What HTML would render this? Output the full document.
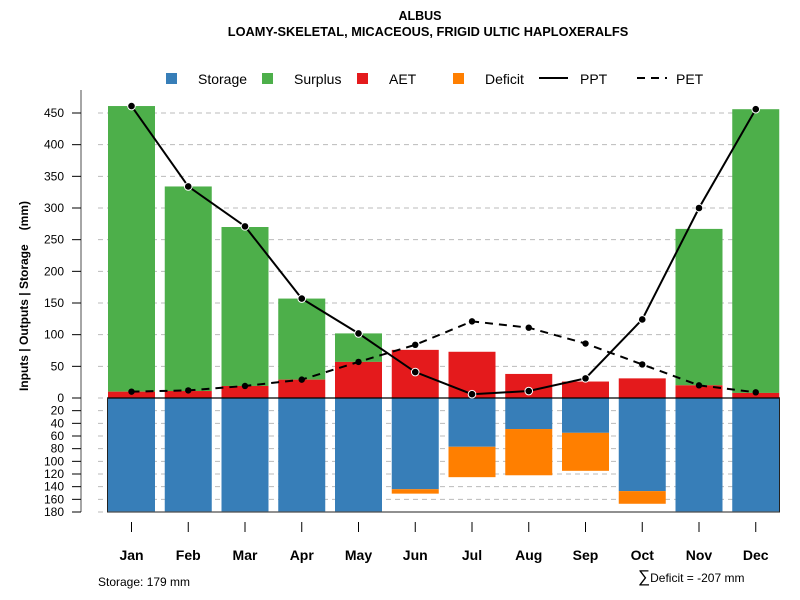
<!DOCTYPE html>
<html><head><meta charset="utf-8"><style>
body{margin:0;background:#fff}
svg{display:block;font-family:"Liberation Sans",sans-serif}
</style></head><body>
<svg id="c" width="800" height="600">
<text x="420" y="20" text-anchor="middle" font-size="12.5" font-weight="bold">ALBUS</text>
<text x="428" y="36" text-anchor="middle" font-size="12.8" font-weight="bold">LOAMY-SKELETAL, MICACEOUS, FRIGID ULTIC HAPLOXERALFS</text>
<text transform="translate(28,296) rotate(-90)" text-anchor="middle" font-size="12" font-weight="bold">Inputs | Outputs | Storage<tspan dx="14">(mm)</tspan></text>
<g id="grid"></g><g id="bars"></g><g id="lines"></g><g id="axes"></g>
<g font-size="14">
<rect x="166" y="73" width="11" height="11" fill="#377eb8"/><text x="198" y="84">Storage</text>
<rect x="262" y="73" width="11" height="11" fill="#4daf4a"/><text x="294" y="84">Surplus</text>
<rect x="357" y="73" width="11" height="11" fill="#e41a1c"/><text x="389" y="84">AET</text>
<rect x="453" y="73" width="11" height="11" fill="#ff7f00"/><text x="485" y="84">Deficit</text>
<line x1="539" y1="78" x2="568" y2="78" stroke="#000" stroke-width="2"/><text x="580" y="84">PPT</text>
<line x1="637" y1="78" x2="667" y2="78" stroke="#000" stroke-width="2" stroke-dasharray="8,6"/><text x="676" y="84">PET</text>
</g>
<text x="98" y="586" font-size="12">Storage: 179 mm</text>
<text x="638" y="582" font-size="12"><tspan font-size="17">∑</tspan>Deficit = -207 mm</text>
</svg>
<script>
const months=["Jan","Feb","Mar","Apr","May","Jun","Jul","Aug","Sep","Oct","Nov","Dec"];
const ppt=[461,334,271,157,102,41,6,11,31,124,300,456];
const pet=[10,12,19,29,57,84,121,111,86,53,20,9];
const aet=[10,11,19,29,57,76,73,38,26,31,20,8];
const surplus=[451,323,251,128,45,0,0,0,0,0,247,448];
const storage=[179,179,179,179,179,144,77,49,55,147,179,179];
const deficit=[0,0,0,0,0,7,48,73,60,20,0,0];
const upTicks=[0,50,100,150,200,250,300,350,400,450];
const lowTicks=[20,40,60,80,100,120,140,160,180];
const NS="http://www.w3.org/2000/svg";
const y0=398;
const yUp=v=>y0-v*(285/450);
const yLow=v=>y0+v*(114/180);
const xC=i=>131.5+i*56.75;
const bw=47;
function mk(t,a,p){const e=document.createElementNS(NS,t);for(const k in a)e.setAttribute(k,a[k]);(p||document.getElementById('c')).appendChild(e);return e;}
const G=document.getElementById('grid'),B=document.getElementById('bars'),L=document.getElementById('lines'),A=document.getElementById('axes');
upTicks.forEach(v=>{const e=mk('line',{x1:98,x2:780,y1:yUp(v),y2:yUp(v),stroke:'#bbb','stroke-dasharray':'5,4'},G);

});
lowTicks.forEach(v=>{const e=mk('line',{x1:98,x2:780,y1:yLow(v),y2:yLow(v),stroke:'#bbb','stroke-dasharray':'5,4'},G);

});
months.forEach((m,i)=>{const x=xC(i)-bw/2;
if(surplus[i]>0){const top=aet[i]+surplus[i];const e=mk('rect',{x:x,width:bw,y:yUp(top),height:yUp(aet[i])-yUp(top),fill:'#4daf4a'},B);

}
let e=mk('rect',{x:x,width:bw,y:yUp(aet[i]),height:y0-yUp(aet[i]),fill:'#e41a1c'},B);


e=mk('rect',{x:x,width:bw,y:y0,height:yLow(storage[i])-y0,fill:'#377eb8'},B);


if(deficit[i]>0){e=mk('rect',{x:x,width:bw,y:yLow(storage[i]),height:yLow(storage[i]+deficit[i])-yLow(storage[i]),fill:'#ff7f00'},B);

}
});
let ln=mk('line',{x1:107,x2:780,y1:y0,y2:y0,stroke:'#000','stroke-width':1.3},B);


ln=mk('polyline',{points:'107.5,398 107.5,512 779.5,512 779.5,398',fill:'none',stroke:'#222','stroke-width':1},B);


let p=mk('polyline',{points:pet.map((v,i)=>xC(i)+','+yUp(v)).join(' '),fill:'none',stroke:'#000','stroke-width':2,'stroke-dasharray':'8,6'},L);


pet.forEach((v,i)=>{const c=mk('circle',{cx:xC(i),cy:yUp(v),r:3.2,fill:'#000'},L);

});
p=mk('polyline',{points:ppt.map((v,i)=>xC(i)+','+yUp(v)).join(' '),fill:'none',stroke:'#000','stroke-width':2},L);


ppt.forEach((v,i)=>{const c=mk('circle',{cx:xC(i),cy:yUp(v),r:3.8,fill:'#000',stroke:'#fff','stroke-width':1},L);

});
ln=mk('line',{x1:81,x2:81,y1:90,y2:512,stroke:'#888','stroke-width':1.5},A);


upTicks.forEach(v=>{mk('line',{x1:72,x2:81,y1:yUp(v),y2:yUp(v),stroke:'#000'},A);
const t=mk('text',{x:64,y:yUp(v)+4,'text-anchor':'end','font-size':12},A);t.textContent=v;

});
lowTicks.forEach(v=>{mk('line',{x1:72,x2:81,y1:yLow(v),y2:yLow(v),stroke:'#000'},A);
const t=mk('text',{x:64,y:yLow(v)+4,'text-anchor':'end','font-size':12},A);t.textContent=v;

});
months.forEach((m,i)=>{mk('line',{x1:xC(i),x2:xC(i),y1:522,y2:532,stroke:'#000'},A);
const t=mk('text',{x:xC(i),y:560,'text-anchor':'middle','font-size':14,'font-weight':'bold'},A);t.textContent=m;

});
</script>
</body></html>
